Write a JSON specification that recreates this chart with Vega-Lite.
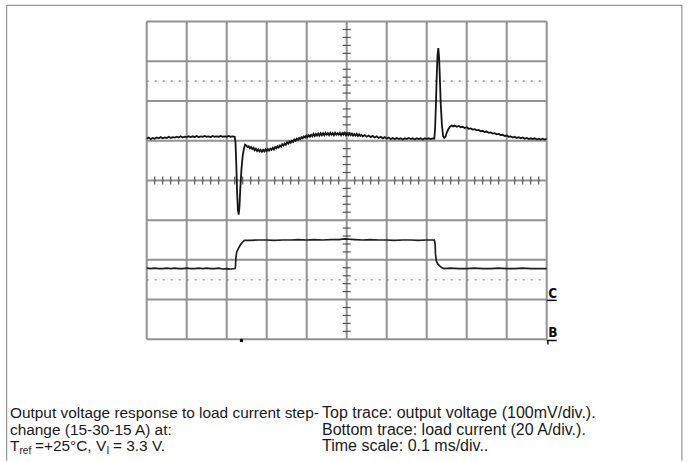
{
  "$schema": "https://vega.github.io/schema/vega-lite/v6.json",
  "width": 688,
  "height": 462,
  "autosize": {"type": "fit", "contains": "padding"},
  "padding": 0,
  "background": "white",
  "config": {"view": {"stroke": null}},
  "datasets": {
    "grid": [
      {"x1": 0, "y1": 0, "x2": 0, "y2": 8}, {"x1": 1, "y1": 0, "x2": 1, "y2": 8}, {"x1": 2, "y1": 0, "x2": 2, "y2": 8},
      {"x1": 3, "y1": 0, "x2": 3, "y2": 8}, {"x1": 4, "y1": 0, "x2": 4, "y2": 8}, {"x1": 5, "y1": 0, "x2": 5, "y2": 8},
      {"x1": 6, "y1": 0, "x2": 6, "y2": 8}, {"x1": 7, "y1": 0, "x2": 7, "y2": 8}, {"x1": 8, "y1": 0, "x2": 8, "y2": 8},
      {"x1": 9, "y1": 0, "x2": 9, "y2": 8}, {"x1": 10, "y1": 0, "x2": 10, "y2": 8},
      {"x1": 0, "y1": 0, "x2": 10, "y2": 0}, {"x1": 0, "y1": 1, "x2": 10, "y2": 1}, {"x1": 0, "y1": 2, "x2": 10, "y2": 2},
      {"x1": 0, "y1": 3, "x2": 10, "y2": 3}, {"x1": 0, "y1": 4, "x2": 10, "y2": 4}, {"x1": 0, "y1": 5, "x2": 10, "y2": 5},
      {"x1": 0, "y1": 6, "x2": 10, "y2": 6}, {"x1": 0, "y1": 7, "x2": 10, "y2": 7}, {"x1": 0, "y1": 8, "x2": 10, "y2": 8}
    ],
    "dotted": [{"v": 6.5}, {"v": 1.5}],
    "hticks": [
      {"p": 0.2}, {"p": 0.4}, {"p": 0.6}, {"p": 0.8}, {"p": 1.2}, {"p": 1.4}, {"p": 1.6}, {"p": 1.8},
      {"p": 2.2}, {"p": 2.4}, {"p": 2.6}, {"p": 2.8}, {"p": 3.2}, {"p": 3.4}, {"p": 3.6}, {"p": 3.8},
      {"p": 4.2}, {"p": 4.4}, {"p": 4.6}, {"p": 4.8}, {"p": 5.2}, {"p": 5.4}, {"p": 5.6}, {"p": 5.8},
      {"p": 6.2}, {"p": 6.4}, {"p": 6.6}, {"p": 6.8}, {"p": 7.2}, {"p": 7.4}, {"p": 7.6}, {"p": 7.8},
      {"p": 8.2}, {"p": 8.4}, {"p": 8.6}, {"p": 8.8}, {"p": 9.2}, {"p": 9.4}, {"p": 9.6}, {"p": 9.8}
    ],
    "vticks": [
      {"p": 0.2}, {"p": 0.4}, {"p": 0.6}, {"p": 0.8}, {"p": 1.2}, {"p": 1.4}, {"p": 1.6}, {"p": 1.8},
      {"p": 2.2}, {"p": 2.4}, {"p": 2.6}, {"p": 2.8}, {"p": 3.2}, {"p": 3.4}, {"p": 3.6}, {"p": 3.8},
      {"p": 4.2}, {"p": 4.4}, {"p": 4.6}, {"p": 4.8}, {"p": 5.2}, {"p": 5.4}, {"p": 5.6}, {"p": 5.8},
      {"p": 6.2}, {"p": 6.4}, {"p": 6.6}, {"p": 6.8}, {"p": 7.2}, {"p": 7.4}, {"p": 7.6}, {"p": 7.8}
    ],
    "voltage": [
      {"t": 0.00, "v": 5.05}, {"t": 0.05, "v": 5.08}, {"t": 0.10, "v": 5.04}, {"t": 0.15, "v": 5.07}, {"t": 0.20, "v": 5.05},
      {"t": 0.25, "v": 5.08}, {"t": 0.30, "v": 5.06}, {"t": 0.35, "v": 5.09}, {"t": 0.40, "v": 5.06}, {"t": 0.45, "v": 5.08},
      {"t": 0.50, "v": 5.07}, {"t": 0.55, "v": 5.10}, {"t": 0.60, "v": 5.07}, {"t": 0.65, "v": 5.09}, {"t": 0.70, "v": 5.08},
      {"t": 0.75, "v": 5.10}, {"t": 0.80, "v": 5.08}, {"t": 0.85, "v": 5.11}, {"t": 0.90, "v": 5.08}, {"t": 0.95, "v": 5.10},
      {"t": 1.00, "v": 5.09}, {"t": 1.05, "v": 5.11}, {"t": 1.10, "v": 5.09}, {"t": 1.15, "v": 5.11}, {"t": 1.20, "v": 5.09},
      {"t": 1.25, "v": 5.12}, {"t": 1.30, "v": 5.09}, {"t": 1.35, "v": 5.11}, {"t": 1.40, "v": 5.10}, {"t": 1.45, "v": 5.12},
      {"t": 1.50, "v": 5.10}, {"t": 1.55, "v": 5.11}, {"t": 1.60, "v": 5.09}, {"t": 1.65, "v": 5.12}, {"t": 1.70, "v": 5.10},
      {"t": 1.75, "v": 5.11}, {"t": 1.80, "v": 5.10}, {"t": 1.85, "v": 5.12}, {"t": 1.90, "v": 5.10}, {"t": 1.95, "v": 5.11},
      {"t": 2.00, "v": 5.10}, {"t": 2.05, "v": 5.12}, {"t": 2.10, "v": 5.10}, {"t": 2.15, "v": 5.11}, {"t": 2.20, "v": 5.10},
      {"t": 2.22, "v": 4.95}, {"t": 2.24, "v": 4.40}, {"t": 2.26, "v": 3.70}, {"t": 2.28, "v": 3.25}, {"t": 2.30, "v": 3.14},
      {"t": 2.32, "v": 3.35}, {"t": 2.34, "v": 3.80}, {"t": 2.37, "v": 4.30}, {"t": 2.40, "v": 4.62}, {"t": 2.43, "v": 4.80},
      {"t": 2.46, "v": 4.90}, {"t": 2.49, "v": 4.88}, {"t": 2.52, "v": 4.84}, {"t": 2.55, "v": 4.86}, {"t": 2.58, "v": 4.81},
      {"t": 2.61, "v": 4.84}, {"t": 2.64, "v": 4.79}, {"t": 2.67, "v": 4.82}, {"t": 2.70, "v": 4.76}, {"t": 2.73, "v": 4.80},
      {"t": 2.76, "v": 4.74}, {"t": 2.79, "v": 4.78}, {"t": 2.82, "v": 4.73}, {"t": 2.85, "v": 4.77}, {"t": 2.88, "v": 4.72},
      {"t": 2.91, "v": 4.77}, {"t": 2.94, "v": 4.73}, {"t": 2.97, "v": 4.78}, {"t": 3.00, "v": 4.74}, {"t": 3.03, "v": 4.79},
      {"t": 3.06, "v": 4.75}, {"t": 3.09, "v": 4.80}, {"t": 3.12, "v": 4.77}, {"t": 3.15, "v": 4.82}, {"t": 3.18, "v": 4.78},
      {"t": 3.21, "v": 4.84}, {"t": 3.24, "v": 4.81}, {"t": 3.27, "v": 4.86}, {"t": 3.30, "v": 4.83}, {"t": 3.33, "v": 4.88},
      {"t": 3.36, "v": 4.85}, {"t": 3.39, "v": 4.91}, {"t": 3.42, "v": 4.88}, {"t": 3.45, "v": 4.93}, {"t": 3.48, "v": 4.90},
      {"t": 3.51, "v": 4.96}, {"t": 3.54, "v": 4.93}, {"t": 3.57, "v": 4.98}, {"t": 3.60, "v": 4.95}, {"t": 3.63, "v": 5.00},
      {"t": 3.66, "v": 4.97}, {"t": 3.69, "v": 5.03}, {"t": 3.72, "v": 5.00}, {"t": 3.75, "v": 5.05}, {"t": 3.78, "v": 5.02},
      {"t": 3.81, "v": 5.07}, {"t": 3.84, "v": 5.04}, {"t": 3.87, "v": 5.09}, {"t": 3.90, "v": 5.06}, {"t": 3.93, "v": 5.11},
      {"t": 3.96, "v": 5.08}, {"t": 3.99, "v": 5.13}, {"t": 4.02, "v": 5.09}, {"t": 4.05, "v": 5.14}, {"t": 4.08, "v": 5.10},
      {"t": 4.11, "v": 5.15}, {"t": 4.14, "v": 5.11}, {"t": 4.17, "v": 5.17}, {"t": 4.20, "v": 5.12}, {"t": 4.23, "v": 5.17},
      {"t": 4.26, "v": 5.13}, {"t": 4.29, "v": 5.18}, {"t": 4.32, "v": 5.13}, {"t": 4.35, "v": 5.19}, {"t": 4.38, "v": 5.14},
      {"t": 4.41, "v": 5.19}, {"t": 4.44, "v": 5.14}, {"t": 4.47, "v": 5.20}, {"t": 4.50, "v": 5.15}, {"t": 4.53, "v": 5.19},
      {"t": 4.56, "v": 5.14}, {"t": 4.59, "v": 5.20}, {"t": 4.62, "v": 5.15}, {"t": 4.65, "v": 5.19}, {"t": 4.68, "v": 5.14},
      {"t": 4.71, "v": 5.20}, {"t": 4.74, "v": 5.15}, {"t": 4.77, "v": 5.19}, {"t": 4.80, "v": 5.15}, {"t": 4.83, "v": 5.20},
      {"t": 4.86, "v": 5.14}, {"t": 4.89, "v": 5.19}, {"t": 4.92, "v": 5.15}, {"t": 4.95, "v": 5.20}, {"t": 4.98, "v": 5.14},
      {"t": 5.01, "v": 5.19}, {"t": 5.04, "v": 5.14}, {"t": 5.07, "v": 5.18}, {"t": 5.10, "v": 5.14}, {"t": 5.13, "v": 5.18},
      {"t": 5.16, "v": 5.13}, {"t": 5.19, "v": 5.17}, {"t": 5.22, "v": 5.13}, {"t": 5.25, "v": 5.17}, {"t": 5.28, "v": 5.12},
      {"t": 5.31, "v": 5.16}, {"t": 5.34, "v": 5.12}, {"t": 5.37, "v": 5.15}, {"t": 5.40, "v": 5.11}, {"t": 5.45, "v": 5.14},
      {"t": 5.50, "v": 5.10}, {"t": 5.55, "v": 5.13}, {"t": 5.60, "v": 5.09}, {"t": 5.65, "v": 5.12}, {"t": 5.70, "v": 5.08},
      {"t": 5.75, "v": 5.11}, {"t": 5.80, "v": 5.07}, {"t": 5.85, "v": 5.10}, {"t": 5.90, "v": 5.06}, {"t": 5.95, "v": 5.09},
      {"t": 6.00, "v": 5.05}, {"t": 6.05, "v": 5.08}, {"t": 6.10, "v": 5.04}, {"t": 6.15, "v": 5.07}, {"t": 6.20, "v": 5.04},
      {"t": 6.25, "v": 5.07}, {"t": 6.30, "v": 5.04}, {"t": 6.35, "v": 5.06}, {"t": 6.40, "v": 5.03}, {"t": 6.45, "v": 5.06},
      {"t": 6.50, "v": 5.04}, {"t": 6.55, "v": 5.07}, {"t": 6.60, "v": 5.04}, {"t": 6.65, "v": 5.06}, {"t": 6.70, "v": 5.03},
      {"t": 6.75, "v": 5.06}, {"t": 6.80, "v": 5.04}, {"t": 6.85, "v": 5.06}, {"t": 6.90, "v": 5.03}, {"t": 6.95, "v": 5.06},
      {"t": 7.00, "v": 5.04}, {"t": 7.05, "v": 5.06}, {"t": 7.10, "v": 5.04}, {"t": 7.15, "v": 5.06}, {"t": 7.19, "v": 5.05},
      {"t": 7.21, "v": 5.30}, {"t": 7.23, "v": 5.90}, {"t": 7.25, "v": 6.60}, {"t": 7.27, "v": 7.15}, {"t": 7.29, "v": 7.33},
      {"t": 7.31, "v": 7.10}, {"t": 7.33, "v": 6.55}, {"t": 7.35, "v": 5.95}, {"t": 7.38, "v": 5.40}, {"t": 7.41, "v": 5.12},
      {"t": 7.44, "v": 5.07}, {"t": 7.47, "v": 5.10}, {"t": 7.50, "v": 5.20}, {"t": 7.54, "v": 5.29}, {"t": 7.58, "v": 5.35},
      {"t": 7.62, "v": 5.38}, {"t": 7.66, "v": 5.36}, {"t": 7.70, "v": 5.38}, {"t": 7.75, "v": 5.35}, {"t": 7.80, "v": 5.37},
      {"t": 7.85, "v": 5.34}, {"t": 7.90, "v": 5.35}, {"t": 7.95, "v": 5.32}, {"t": 8.00, "v": 5.34}, {"t": 8.05, "v": 5.30},
      {"t": 8.10, "v": 5.31}, {"t": 8.15, "v": 5.28}, {"t": 8.20, "v": 5.29}, {"t": 8.25, "v": 5.26}, {"t": 8.30, "v": 5.27},
      {"t": 8.35, "v": 5.24}, {"t": 8.40, "v": 5.25}, {"t": 8.45, "v": 5.22}, {"t": 8.50, "v": 5.23}, {"t": 8.55, "v": 5.20},
      {"t": 8.60, "v": 5.21}, {"t": 8.65, "v": 5.18}, {"t": 8.70, "v": 5.19}, {"t": 8.75, "v": 5.16}, {"t": 8.80, "v": 5.17},
      {"t": 8.85, "v": 5.14}, {"t": 8.90, "v": 5.15}, {"t": 8.95, "v": 5.12}, {"t": 9.00, "v": 5.13}, {"t": 9.05, "v": 5.10},
      {"t": 9.10, "v": 5.11}, {"t": 9.15, "v": 5.08}, {"t": 9.20, "v": 5.10}, {"t": 9.25, "v": 5.07}, {"t": 9.30, "v": 5.09},
      {"t": 9.35, "v": 5.06}, {"t": 9.40, "v": 5.08}, {"t": 9.45, "v": 5.05}, {"t": 9.50, "v": 5.07}, {"t": 9.55, "v": 5.04},
      {"t": 9.60, "v": 5.06}, {"t": 9.65, "v": 5.04}, {"t": 9.70, "v": 5.06}, {"t": 9.75, "v": 5.03}, {"t": 9.80, "v": 5.05},
      {"t": 9.85, "v": 5.03}, {"t": 9.90, "v": 5.05}, {"t": 9.95, "v": 5.03}, {"t": 10.00, "v": 5.05}
    ],
    "current": [
      {"t": 0.0, "i": 1.79}, {"t": 0.1, "i": 1.78}, {"t": 0.2, "i": 1.79}, {"t": 0.3, "i": 1.78}, {"t": 0.4, "i": 1.78},
      {"t": 0.5, "i": 1.79}, {"t": 0.6, "i": 1.78}, {"t": 0.7, "i": 1.79}, {"t": 0.8, "i": 1.78}, {"t": 0.9, "i": 1.78},
      {"t": 1.0, "i": 1.79}, {"t": 1.1, "i": 1.78}, {"t": 1.2, "i": 1.78}, {"t": 1.3, "i": 1.79}, {"t": 1.4, "i": 1.78},
      {"t": 1.5, "i": 1.79}, {"t": 1.6, "i": 1.78}, {"t": 1.7, "i": 1.78}, {"t": 1.8, "i": 1.79}, {"t": 1.9, "i": 1.77},
      {"t": 2.0, "i": 1.78}, {"t": 2.1, "i": 1.77}, {"t": 2.21, "i": 1.78},
      {"t": 2.22, "i": 1.85}, {"t": 2.23, "i": 2.05}, {"t": 2.25, "i": 2.20}, {"t": 2.30, "i": 2.30}, {"t": 2.35, "i": 2.39},
      {"t": 2.40, "i": 2.45}, {"t": 2.44, "i": 2.49}, {"t": 2.6, "i": 2.49}, {"t": 2.8, "i": 2.50}, {"t": 3.0, "i": 2.50},
      {"t": 3.2, "i": 2.49}, {"t": 3.4, "i": 2.50}, {"t": 3.6, "i": 2.50}, {"t": 3.8, "i": 2.51}, {"t": 4.0, "i": 2.50},
      {"t": 4.2, "i": 2.51}, {"t": 4.4, "i": 2.50}, {"t": 4.6, "i": 2.51}, {"t": 4.8, "i": 2.51}, {"t": 4.95, "i": 2.53},
      {"t": 5.05, "i": 2.52}, {"t": 5.2, "i": 2.51}, {"t": 5.4, "i": 2.50}, {"t": 5.6, "i": 2.51}, {"t": 5.8, "i": 2.50},
      {"t": 6.0, "i": 2.50}, {"t": 6.2, "i": 2.49}, {"t": 6.4, "i": 2.50}, {"t": 6.6, "i": 2.50}, {"t": 6.8, "i": 2.49},
      {"t": 7.0, "i": 2.50}, {"t": 7.19, "i": 2.50},
      {"t": 7.21, "i": 2.40}, {"t": 7.22, "i": 2.15}, {"t": 7.24, "i": 1.97}, {"t": 7.28, "i": 1.89}, {"t": 7.33, "i": 1.84},
      {"t": 7.38, "i": 1.80}, {"t": 7.43, "i": 1.78}, {"t": 7.6, "i": 1.79}, {"t": 7.8, "i": 1.78}, {"t": 8.0, "i": 1.78},
      {"t": 8.2, "i": 1.79}, {"t": 8.4, "i": 1.78}, {"t": 8.6, "i": 1.78}, {"t": 8.8, "i": 1.79}, {"t": 9.0, "i": 1.78},
      {"t": 9.2, "i": 1.78}, {"t": 9.4, "i": 1.79}, {"t": 9.6, "i": 1.78}, {"t": 9.8, "i": 1.78}, {"t": 10.0, "i": 1.78}
    ]
  },
  "layer": [
    {
      "data": {"values": [{"a": 1}]},
      "mark": {"type": "rule", "stroke": "#808080", "strokeWidth": 1},
      "encoding": {
        "x": {"datum": -3.5, "type": "quantitative", "scale": {"domain": [-3.6675, 13.5325], "nice": false, "zero": false}, "axis": null},
        "y": {"datum": 8.41, "type": "quantitative", "scale": {"domain": [-3.065, 8.543], "nice": false, "zero": false}, "axis": null},
        "x2": {"datum": 13.38}
      }
    },
    {
      "data": {"values": [{"xx": -3.5}, {"xx": 13.38}]},
      "mark": {"type": "rule", "stroke": "#808080", "strokeWidth": 1},
      "encoding": {
        "x": {"field": "xx", "type": "quantitative"},
        "y": {"datum": 8.41, "type": "quantitative"},
        "y2": {"datum": -3.06}
      }
    },
    {
      "data": {"name": "dotted"},
      "mark": {"type": "rule", "stroke": "#a0a0a0", "strokeWidth": 1.6, "strokeDash": [2, 6]},
      "encoding": {
        "x": {"datum": 0, "type": "quantitative"},
        "x2": {"datum": 10},
        "y": {"field": "v", "type": "quantitative"}
      }
    },
    {
      "data": {"name": "grid"},
      "mark": {"type": "rule", "stroke": "#929292", "strokeWidth": 2},
      "encoding": {
        "x": {"field": "x1", "type": "quantitative"},
        "x2": {"field": "x2"},
        "y": {"field": "y1", "type": "quantitative"},
        "y2": {"field": "y2"}
      }
    },
    {
      "data": {"name": "hticks"},
      "mark": {"type": "rule", "stroke": "#555555", "strokeWidth": 1.2},
      "encoding": {
        "x": {"field": "p", "type": "quantitative"},
        "y": {"datum": 3.9, "type": "quantitative"},
        "y2": {"datum": 4.1}
      }
    },
    {
      "data": {"name": "vticks"},
      "mark": {"type": "rule", "stroke": "#555555", "strokeWidth": 1.2},
      "encoding": {
        "y": {"field": "p", "type": "quantitative"},
        "x": {"datum": 4.9, "type": "quantitative"},
        "x2": {"datum": 5.1}
      }
    },
    {
      "data": {"name": "current"},
      "mark": {"type": "line", "stroke": "#1e1e1e", "strokeWidth": 1.7, "interpolate": "linear"},
      "encoding": {
        "x": {"field": "t", "type": "quantitative"},
        "y": {"field": "i", "type": "quantitative"}
      }
    },
    {
      "data": {"name": "voltage"},
      "mark": {"type": "line", "stroke": "#141414", "strokeWidth": 1.8, "interpolate": "linear"},
      "encoding": {
        "x": {"field": "t", "type": "quantitative"},
        "y": {"field": "v", "type": "quantitative"}
      }
    },
    {
      "data": {"values": [{"lab": "C", "ly": 1.04}, {"lab": "B", "ly": 0.06}]},
      "mark": {"type": "text", "font": "DejaVu Sans Condensed", "fontWeight": "bold", "fontSize": 13.5, "align": "left", "baseline": "alphabetic", "color": "#111111"},
      "encoding": {
        "x": {"datum": 10.04, "type": "quantitative"},
        "y": {"field": "ly", "type": "quantitative"},
        "text": {"field": "lab"}
      }
    },
    {
      "data": {"values": [{"uy": 0.98}, {"uy": -0.03}]},
      "mark": {"type": "rule", "stroke": "#111111", "strokeWidth": 1.5},
      "encoding": {
        "x": {"datum": 10.0, "type": "quantitative"},
        "x2": {"datum": 10.25},
        "y": {"field": "uy", "type": "quantitative"}
      }
    },
    {
      "data": {"values": [{"a": 1}]},
      "mark": {"type": "rule", "stroke": "#111111", "strokeWidth": 1.5},
      "encoding": {
        "x": {"datum": 10.03, "type": "quantitative"},
        "y": {"datum": -0.03, "type": "quantitative"},
        "y2": {"datum": -0.13}
      }
    },
    {
      "data": {"values": [{"a": 1}]},
      "mark": {"type": "square", "size": 10, "filled": true, "color": "#111111", "opacity": 1},
      "encoding": {
        "x": {"datum": 2.37, "type": "quantitative"},
        "y": {"datum": -0.03, "type": "quantitative"}
      }
    },
    {
      "data": {"values": [
        {"line": "Output voltage response to load current step-", "ly": -1.985},
        {"line": "change (15-30-15 A) at:", "ly": -2.412}
      ]},
      "mark": {"type": "text", "font": "Liberation Sans", "fontSize": 15.4, "align": "left", "baseline": "alphabetic", "color": "#1a1a1a"},
      "encoding": {
        "x": {"datum": -3.4175, "type": "quantitative"},
        "y": {"field": "ly", "type": "quantitative"},
        "text": {"field": "line"}
      }
    },
    {
      "data": {"values": [
        {"line": "Top trace: output voltage (100mV/div.).", "ly": -1.985},
        {"line": "Bottom trace: load current (20 A/div.).", "ly": -2.412},
        {"line": "Time scale: 0.1 ms/div..", "ly": -2.814}
      ]},
      "mark": {"type": "text", "font": "Liberation Sans", "fontSize": 16, "align": "left", "baseline": "alphabetic", "color": "#1a1a1a"},
      "encoding": {
        "x": {"datum": 4.3825, "type": "quantitative"},
        "y": {"field": "ly", "type": "quantitative"},
        "text": {"field": "line"}
      }
    },
    {
      "data": {"values": [{"seg": "T", "off": 0}, {"seg": "=+25°C, V", "off": 25}, {"seg": "= 3.3 V.", "off": 103}]},
      "mark": {"type": "text", "font": "Liberation Sans", "fontSize": 15.4, "align": "left", "baseline": "alphabetic", "color": "#1a1a1a"},
      "encoding": {
        "x": {"datum": -3.4175, "type": "quantitative"},
        "xOffset": {"field": "off", "type": "quantitative", "scale": {"domain": [0, 120], "range": [0, 120]}},
        "y": {"datum": -2.814, "type": "quantitative"},
        "text": {"field": "seg"}
      }
    },
    {
      "data": {"values": [{"seg": "ref", "off": 9.5}, {"seg": "I", "off": 96.5}]},
      "mark": {"type": "text", "font": "Liberation Sans", "fontSize": 10, "align": "left", "baseline": "alphabetic", "color": "#1a1a1a", "dy": 3},
      "encoding": {
        "x": {"datum": -3.4175, "type": "quantitative"},
        "xOffset": {"field": "off", "type": "quantitative", "scale": {"domain": [0, 120], "range": [0, 120]}},
        "y": {"datum": -2.814, "type": "quantitative"},
        "text": {"field": "seg"}
      }
    }
  ]
}
